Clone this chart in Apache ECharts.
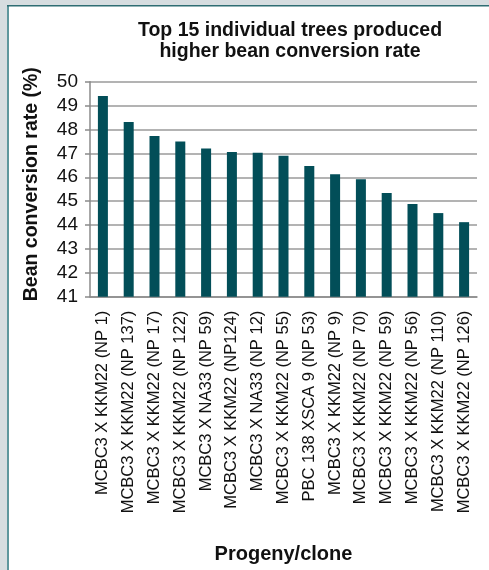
<!DOCTYPE html>
<html>
<head>
<meta charset="utf-8">
<script src="https://cdn.jsdelivr.net/npm/echarts@6/dist/echarts.min.js"></script>
<style>
  html, body { margin: 0; padding: 0; background: #fff; }
  #chart { width: 489px; height: 570px; }
</style>
</head>
<body>
<div id="chart"></div>
<script>
// Progeny/clone names and their bean conversion rate (%)
const categories = [
  'MCBC3 X KKM22 (NP 1)',
  'MCBC3 X KKM22 (NP 137)',
  'MCBC3 X KKM22 (NP 17)',
  'MCBC3 X KKM22 (NP 122)',
  'MCBC3 X NA33 (NP 59)',
  'MCBC3 X KKM22 (NP124)',
  'MCBC3 X NA33 (NP 12)',
  'MCBC3 X KKM22 (NP 55)',
  'PBC 138 XSCA 9 (NP 53)',
  'MCBC3 X KKM22 (NP 9)',
  'MCBC3 X KKM22 (NP 70)',
  'MCBC3 X KKM22 (NP 59)',
  'MCBC3 X KKM22 (NP 56)',
  'MCBC3 X KKM22 (NP 110)',
  'MCBC3 X KKM22 (NP 126)'
];
const conversionRate = [49.4, 48.31, 47.73, 47.5, 47.2, 47.06, 47.03, 46.9, 46.47, 46.13, 45.92, 45.34, 44.88, 44.5, 44.12];
const yMin = 41;
const yMax = 50;

const FONT = '"Liberation Sans", Arial, Helvetica, sans-serif';
const chart = echarts.init(document.getElementById('chart'), null, { renderer: 'canvas' });

chart.setOption({
  backgroundColor: '#ffffff',
  animation: false,
  title: {
    text: 'Top 15 individual trees produced\nhigher bean conversion rate',
    left: 285,
    top: 15,
    textAlign: 'center',
    textStyle: { fontFamily: FONT, fontWeight: 'bold', fontSize: 19.5, lineHeight: 21, color: '#111' }
  },
  graphic: [
    // page frame: grey margin with teal edge lines
    { type: 'rect', left: 0, top: 0, shape: { width: 7, height: 570 }, style: { fill: '#d6dde0' }, silent: true },
    { type: 'rect', left: 0, top: 0, shape: { width: 489, height: 5 }, style: { fill: '#d6dde0' }, silent: true },
    { type: 'rect', left: 7, top: 5, shape: { width: 2, height: 565 }, style: { fill: '#5e979d' }, silent: true },
    { type: 'rect', left: 7, top: 5, shape: { width: 482, height: 1.5 }, style: { fill: '#2e6d73' }, silent: true }
  ],
  grid: { left: 90, right: 12, top: 81.7, bottom: 273.3, containLabel: false },
  xAxis: {
    type: 'category',
    data: categories,
    name: 'Progeny/clone',
    nameLocation: 'middle',
    nameGap: 248,
    nameTextStyle: { fontFamily: FONT, fontWeight: 'bold', fontSize: 20, color: '#111' },
    axisLine: { lineStyle: { color: '#8a8a8a', width: 1.5 } },
    axisTick: { show: false },
    axisLabel: {
      rotate: 90,
      interval: 0,
      margin: 14,
      fontFamily: FONT,
      fontSize: 16.5,
      color: '#111'
    }
  },
  yAxis: {
    type: 'value',
    min: yMin,
    max: yMax,
    interval: 1,
    name: 'Bean conversion rate (%)',
    nameLocation: 'middle',
    nameGap: 48,
    nameRotate: 90,
    nameTextStyle: { fontFamily: FONT, fontWeight: 'bold', fontSize: 19.5, color: '#111', padding: [0, 0, 0, 10] },
    axisLine: { show: true, lineStyle: { color: '#8a8a8a', width: 1.5 } },
    axisTick: { show: true, length: 5, lineStyle: { color: '#8a8a8a', width: 1.5 } },
    splitLine: { show: true, lineStyle: { color: '#9a9a9a', width: 1.5 } },
    axisLabel: { margin: 12, fontFamily: FONT, fontSize: 19, color: '#111' }
  },
  series: [{
    type: 'bar',
    data: conversionRate,
    barWidth: 10,
    itemStyle: { color: '#024e58' }
  }]
});
</script>
</body>
</html>
